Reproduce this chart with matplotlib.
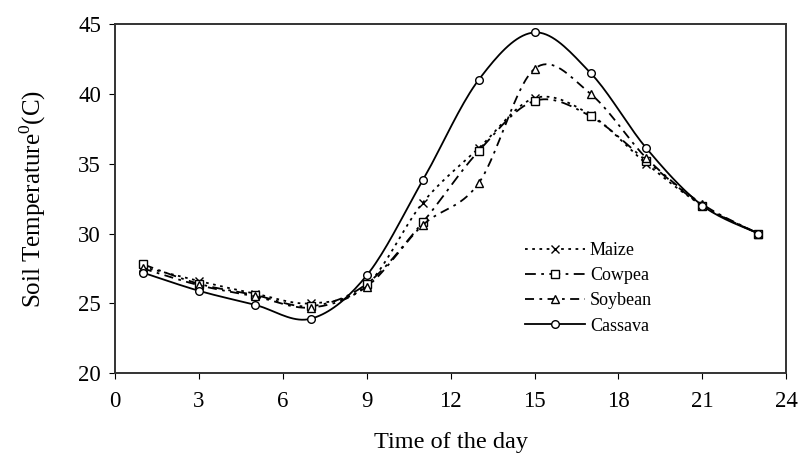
import matplotlib.pyplot as plt
import numpy as np

plt.rcParams['font.family'] = ['Liberation Serif', 'DejaVu Serif']
plt.rcParams['mathtext.fontset'] = 'custom'
plt.rcParams['mathtext.rm'] = 'Liberation Serif'

# Hours of the day
hours = [1, 3, 5, 7, 9, 11, 13, 15, 17, 19, 21, 23]

# Soil temperature (C) under each crop
maize = [27.6, 26.6, 25.7, 25.0, 26.3, 32.2, 36.1, 39.7, 38.5, 35.0, 32.0, 30.0]
cowpea = [27.8, 26.4, 25.6, 24.8, 26.4, 30.8, 35.9, 39.5, 38.4, 35.2, 32.0, 30.0]
soybean = [27.5, 26.3, 25.5, 24.7, 26.2, 30.6, 33.6, 41.8, 40.0, 35.4, 32.1, 30.0]
cassava = [27.2, 25.9, 24.9, 23.9, 27.0, 33.8, 41.0, 44.4, 41.5, 36.1, 32.0, 30.0]


def smooth(x, y, n=20):
    # Excel-like smoothed line (Catmull-Rom as cubic Bezier segments)
    p = np.column_stack([x, y]).astype(float)
    p = np.vstack([p[0], p, p[-1]])
    t = np.linspace(0, 1, n)[:, None]
    out = []
    for i in range(1, len(p) - 2):
        b0 = p[i]
        b3 = p[i + 1]
        b1 = b0 + (p[i + 1] - p[i - 1]) / 6
        b2 = b3 - (p[i + 2] - p[i]) / 6
        seg = ((1 - t) ** 3) * b0 + 3 * ((1 - t) ** 2) * t * b1 + 3 * (1 - t) * t ** 2 * b2 + t ** 3 * b3
        out.append(seg if i == 1 else seg[1:])
    out = np.vstack(out)
    return out[:, 0], out[:, 1]


fig = plt.figure(figsize=(8.04, 4.63), dpi=100)
ax = fig.add_axes([0.143, 0.194, 0.835, 0.754])

series = [
    ('Maize', maize, (0, (1.5, 2.5)), 'x'),
    ('Cowpea', cowpea, (0, (6, 3, 1.5, 3)), 's'),
    ('Soybean', soybean, (0, (5, 3, 1.5, 3)), '^'),
    ('Cassava', cassava, '-', 'o'),
]
for name, vals, ls, mk in series:
    sx, sy = smooth(hours, vals)
    ax.plot(sx, sy, color='black', linestyle=ls, linewidth=1.3)
    ax.plot(hours, vals, linestyle='none', marker=mk, markersize=5.5,
            markerfacecolor='white', markeredgecolor='black', markeredgewidth=1.0)
    ax.plot([], [], color='black', linestyle=ls, linewidth=1.3, marker=mk, markersize=5.5,
            markerfacecolor='white', markeredgecolor='black', markeredgewidth=1.0, label=name)

ax.set_xlim(0, 24)
ax.set_ylim(20, 45)
ax.set_xticks(np.arange(0, 25, 3))
ax.set_yticks(np.arange(20, 46, 5))
ax.tick_params(axis='both', direction='out', length=4, width=0.8, labelsize=16.5,
               top=False, right=False)
ax.tick_params(axis='x', pad=9)
ax.tick_params(axis='y', pad=6)
for s in ax.spines.values():
    s.set_linewidth(1.4)
    s.set_color('#333333')

ax.set_xlabel('Time of the day', fontsize=17.5, labelpad=14)
ax.set_ylabel('Soil Temperature$^{0}$(C)', fontsize=18, labelpad=22)

ax.legend(loc='upper left', bbox_to_anchor=(0.60, 0.396), frameon=False,
          fontsize=13, handlelength=3.3, handletextpad=0.3, labelspacing=0.45,
          borderaxespad=0)

plt.savefig('out.png', dpi=100)
